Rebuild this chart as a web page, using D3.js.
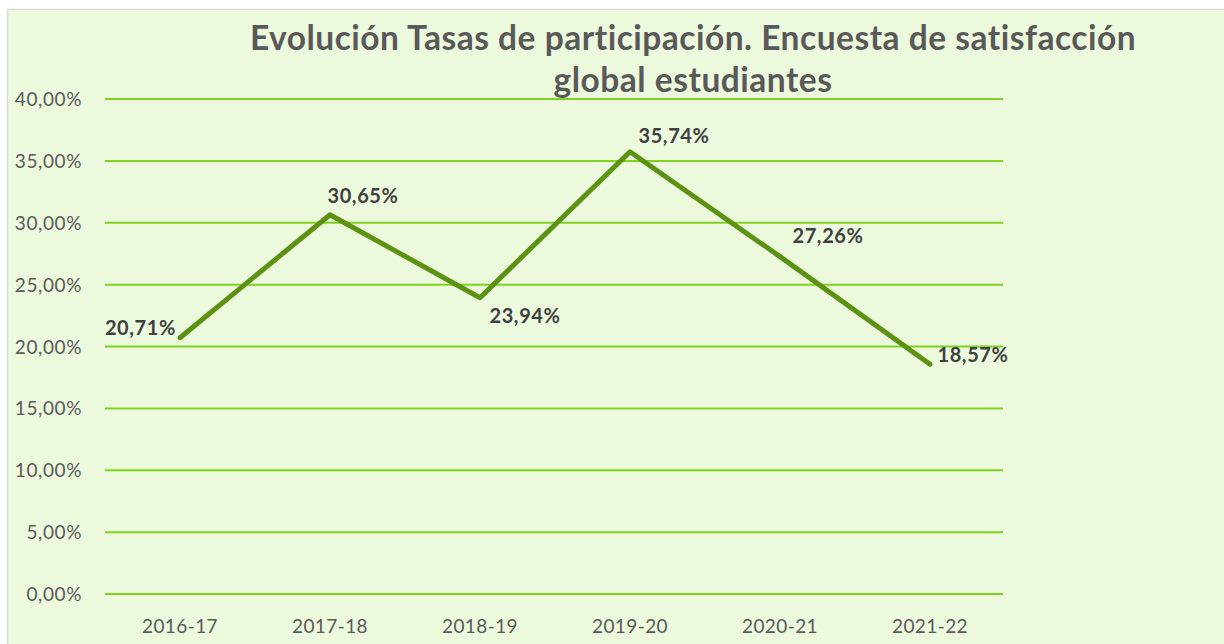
<!DOCTYPE html>
<html>
<head>
<meta charset="utf-8">
<script src="https://cdn.jsdelivr.net/npm/d3@7"></script>
<style>
  html, body { margin: 0; padding: 0; background: #ffffff; }
  svg { display: block; }
</style>
</head>
<body>
<svg id="chart" width="1224" height="644"></svg>
<script>
// Cursos académicos y tasas de participación (%)
const cursos = ["2016-17", "2017-18", "2018-19", "2019-20", "2020-21", "2021-22"];
const tasas = [20.71, 30.65, 23.94, 35.74, 27.26, 18.57];
const ticksY = [0, 5, 10, 15, 20, 25, 30, 35, 40];
// Desplazamiento de cada etiqueta respecto a su punto (dx, dy, alineación)
const etiquetasDx = [-4, 33, 45, 44, 48, 43];
const etiquetasDy = [-3, -12, 25, -9, -14, -2];
const etiquetasAnchor = ["end", "middle", "middle", "middle", "middle", "middle"];
const tituloLineas = ["Evolución Tasas de participación. Encuesta de satisfacción", "global estudiantes"];

const svg = d3.select("#chart");
const W = 1224, H = 644;
const fuente = "Lato, 'Open Sans', sans-serif";

// Área del gráfico
svg.append("rect")
  .attr("x", 7.5).attr("y", 9.5)
  .attr("width", W).attr("height", H)
  .attr("fill", "#edf9dd")
  .attr("stroke", "#d9d9d9").attr("stroke-width", 1.5);

const x = d3.scaleBand().domain(cursos).range([105, 1005]);
const y = d3.scaleLinear().domain([0, 40]).range([594, 99]);

// Líneas de cuadrícula
svg.append("g").selectAll("line")
  .data(ticksY)
  .join("line")
  .attr("x1", 105).attr("x2", 1003)
  .attr("y1", d => y(d)).attr("y2", d => y(d))
  .attr("stroke", "#7ed321").attr("stroke-width", 2);

// Etiquetas del eje Y
const fmt = d => d.toFixed(2).replace(".", ",") + "%";
svg.append("g").selectAll("text")
  .data(ticksY)
  .join("text")
  .attr("x", 82).attr("y", d => y(d) + 7)
  .attr("text-anchor", "end")
  .attr("font-family", fuente).attr("font-size", 19)
  .attr("letter-spacing", 0.6)
  .attr("fill", "#595959")
  .text(fmt);

// Etiquetas del eje X
svg.append("g").selectAll("text")
  .data(cursos)
  .join("text")
  .attr("x", d => x(d) + x.bandwidth() / 2).attr("y", 633)
  .attr("text-anchor", "middle")
  .attr("font-family", fuente).attr("font-size", 19)
  .attr("letter-spacing", 0.4)
  .attr("fill", "#595959")
  .text(d => d);

// Serie
const puntos = cursos.map((c, i) => ({ c, v: tasas[i], i }));
const linea = d3.line()
  .x(d => x(d.c) + x.bandwidth() / 2)
  .y(d => y(d.v));
svg.append("path")
  .datum(puntos)
  .attr("d", linea)
  .attr("fill", "none")
  .attr("stroke", "#5c9212")
  .attr("stroke-width", 5)
  .attr("stroke-linecap", "round")
  .attr("stroke-linejoin", "round");

// Etiquetas de datos
svg.append("g").selectAll("text")
  .data(puntos)
  .join("text")
  .attr("x", d => x(d.c) + x.bandwidth() / 2 + etiquetasDx[d.i])
  .attr("y", d => y(d.v) + etiquetasDy[d.i])
  .attr("text-anchor", d => etiquetasAnchor[d.i])
  .attr("font-family", fuente).attr("font-size", 20).attr("font-weight", "bold")
  .attr("letter-spacing", 0.6)
  .attr("fill", "#404040")
  .text(d => fmt(d.v));

// Título
svg.append("g").selectAll("text")
  .data(tituloLineas)
  .join("text")
  .attr("x", 693).attr("y", (d, i) => 50 + i * 42)
  .attr("text-anchor", "middle")
  .attr("font-family", fuente).attr("font-size", 33.5).attr("font-weight", "bold")
  .attr("letter-spacing", 0.5)
  .attr("fill", "#595959")
  .text(d => d);
</script>
</body>
</html>
